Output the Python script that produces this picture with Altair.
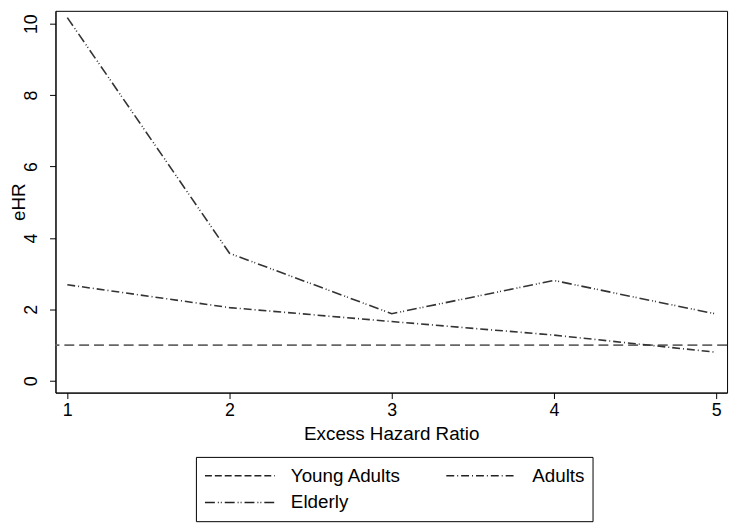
import altair as alt
import pandas as pd

# ---- data ----
x_vals = [1, 2, 3, 4, 5]
adults = [2.69, 2.05, 1.66, 1.28, 0.80]
elderly = [10.17, 3.57, 1.88, 2.81, 1.87]
series = ["Young Adults", "Adults", "Elderly"]
dash_patterns = [[7, 3], [8, 3, 1, 3], [10, 3, 1, 2, 1, 3]]
ref_value = [1]
x_ticks = [1, 2, 3, 4, 5]
y_ticks = [0, 2, 4, 6, 8, 10]

df = pd.DataFrame({
    "x": x_vals * 2,
    "eHR": adults + elderly,
    "group": ["Adults"] * len(adults) + ["Elderly"] * len(elderly),
})
ref_df = pd.DataFrame({"y": ref_value})

FONT = "Liberation Sans"
x_scale = alt.Scale(domain=[0.927, 5.067], nice=False, zero=False)
y_scale = alt.Scale(domain=[-0.33, 10.36], nice=False, zero=False)

x_axis = alt.Axis(values=x_ticks, title="Excess Hazard Ratio", grid=False,
                  labelFontSize=18, titleFontSize=19, labelPadding=3,
                  titlePadding=5, tickSize=6, format="d")
y_axis = alt.Axis(values=y_ticks, title="eHR", grid=False, labelAngle=270,
                  labelAlign="center", labelBaseline="bottom",
                  labelFontSize=18, titleFontSize=19, labelPadding=9,
                  tickSize=6, format="d",
                  titleX=-31, titleY=193, titleAngle=270,
                  titleAlign="center", titleBaseline="alphabetic")

ref = alt.Chart(ref_df).mark_rule(color="#666666", strokeDash=[10, 5],
                                  strokeWidth=1.6).encode(
    y=alt.Y("y:Q", scale=y_scale, axis=y_axis)
)

lines = alt.Chart(df).mark_line(strokeWidth=1.6, color="#333333").encode(
    x=alt.X("x:Q", scale=x_scale, axis=x_axis),
    y=alt.Y("eHR:Q", scale=y_scale, axis=y_axis),
    strokeDash=alt.StrokeDash(
        "group:N",
        scale=alt.Scale(domain=series, range=dash_patterns),
        legend=alt.Legend(
            title=None, orient="none", legendX=142, legendY=451,
            columns=2, direction="horizontal", symbolType="stroke",
            symbolSize=5000, symbolStrokeWidth=1.5, symbolStrokeColor="#222222",
            labelFontSize=19, labelFont=FONT, labelColor="black",
            labelOffset=15, columnPadding=44, rowPadding=5, clipHeight=22,
            strokeColor="black", padding=8,
        ),
    ),
)

chart = alt.layer(ref, lines).properties(
    width=679, height=386,
    autosize=alt.AutoSizeParams(type="none"),
    padding={"left": 48, "top": 0, "right": 5, "bottom": 131},
).configure_view(
    stroke="black", strokeWidth=1
).configure_axis(
    labelFont=FONT, titleFont=FONT, labelColor="black", titleColor="black",
    titleFontWeight="normal", domainColor="black", tickColor="black",
    domainWidth=1, tickWidth=1
).configure_legend(
    labelFont=FONT
)

chart.save("out.html", embed_options={"renderer": "svg", "actions": False})
